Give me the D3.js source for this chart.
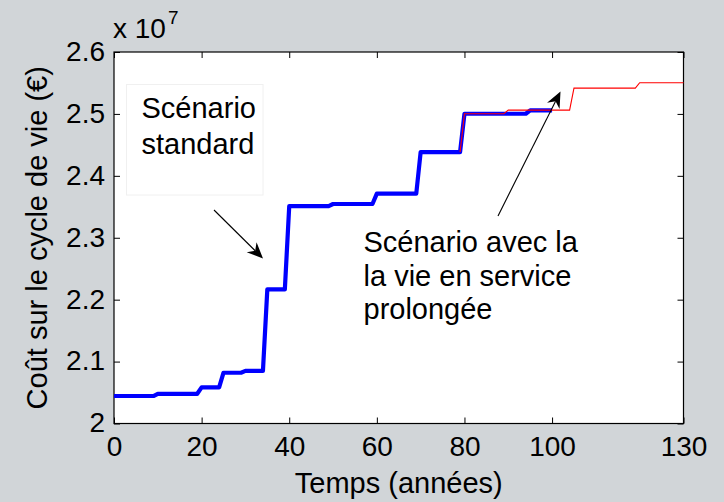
<!DOCTYPE html>
<html>
<head>
<meta charset="utf-8">
<script src="https://cdn.jsdelivr.net/npm/d3@7"></script>
<style>
  html, body { margin: 0; padding: 0; background: #d1d5d8; }
  svg { display: block; font-family: "Liberation Sans", Arial, Helvetica, sans-serif; }
</style>
</head>
<body>
<svg id="chart" width="724" height="502"></svg>
<script>
// Life-cycle cost (in units of 1e7 €) versus time (years)
const standardYears = [0, 9, 10, 19, 20, 24, 25, 29, 30, 34, 35, 39, 40, 49, 50, 59, 60, 69, 70, 79, 80, 94, 95, 100];
const standardCost  = [2.0444, 2.0444, 2.048, 2.048, 2.0584, 2.0584, 2.082, 2.082, 2.085, 2.085,
                       2.2165, 2.2165, 2.3512, 2.3512, 2.3545, 2.3545, 2.3713, 2.3713, 2.4384, 2.4384,
                       2.5003, 2.5003, 2.5058, 2.5058];

const extendedYears = [79, 80, 89, 90, 104, 105, 119, 120, 130];
const extendedCost  = [2.4384, 2.5003, 2.5003, 2.5062, 2.5062, 2.5416, 2.5416, 2.5503, 2.5503];

const xTicks = [0, 20, 40, 60, 80, 100, 130];
const yTicks = [2, 2.1, 2.2, 2.3, 2.4, 2.5, 2.6];
const yTickLabels = ["2", "2.1", "2.2", "2.3", "2.4", "2.5", "2.6"];

const xLabel = "Temps (années)";
const yLabel = "Coût sur le cycle de vie (€)";
const standardNote = ["Scénario", "standard"];
const extendedNote = ["Scénario avec la", "la vie en service", "prolongée"];

const svg = d3.select("#chart");
const plot = { left: 114, right: 683.5, top: 52, bottom: 423.5 };

const x = d3.scaleLinear().domain([0, 130]).range([plot.left, plot.right]);
const y = d3.scaleLinear().domain([2, 2.6]).range([plot.bottom, plot.top]);

// plot background
svg.append("rect")
  .attr("x", plot.left).attr("y", plot.top)
  .attr("width", plot.right - plot.left).attr("height", plot.bottom - plot.top)
  .attr("fill", "#ffffff");

const fontSize = 28;
const tickLen = 6;

// axes: ticks point inward, mirrored on the opposite side
const bottomAxis = d3.axisBottom(x).tickValues(xTicks).tickFormat(d3.format("d"))
  .tickSizeInner(-tickLen).tickSizeOuter(0).tickPadding(14);
const topAxis = d3.axisTop(x).tickValues(xTicks).tickFormat("")
  .tickSizeInner(-tickLen).tickSizeOuter(0);
const leftAxis = d3.axisLeft(y).tickValues(yTicks).tickFormat((d, i) => yTickLabels[i])
  .tickSizeInner(-tickLen).tickSizeOuter(0).tickPadding(14);
const rightAxis = d3.axisRight(y).tickValues(yTicks).tickFormat("")
  .tickSizeInner(-tickLen).tickSizeOuter(0);

function styleAxis(g) {
  g.select(".domain").remove();
  g.selectAll(".tick line").attr("stroke", "#000").attr("stroke-width", 1);
  g.selectAll(".tick text").attr("fill", "#000")
    .style("font-size", fontSize + "px")
    .style("font-family", "'Liberation Sans', Arial, sans-serif");
}

svg.append("g").attr("transform", `translate(0,${plot.bottom})`).call(bottomAxis).call(styleAxis)
  .selectAll(".tick text").attr("dy", "0.71em").attr("y", 13);
svg.append("g").attr("transform", `translate(0,${plot.top})`).call(topAxis).call(styleAxis);
svg.append("g").attr("transform", `translate(${plot.left},0)`).call(leftAxis).call(styleAxis)
  .selectAll(".tick text").attr("x", -9).attr("dy", "0.3em");
svg.append("g").attr("transform", `translate(${plot.right},0)`).call(rightAxis).call(styleAxis);

// frame
svg.append("rect")
  .attr("x", plot.left).attr("y", plot.top)
  .attr("width", plot.right - plot.left).attr("height", plot.bottom - plot.top)
  .attr("fill", "none").attr("stroke", "#000").attr("stroke-width", 1.2);

// series
const line = d3.line().x(d => x(d[0])).y(d => y(d[1]));
const standardData = standardYears.map((t, i) => [t, standardCost[i]]);
const extendedData = extendedYears.map((t, i) => [t, extendedCost[i]]);

svg.append("path").datum(standardData)
  .attr("d", line).attr("fill", "none")
  .attr("stroke", "#0000ff").attr("stroke-width", 4.2)
  .attr("stroke-linejoin", "round");

svg.append("path").datum(extendedData)
  .attr("d", line).attr("fill", "none")
  .attr("stroke", "#ff0000").attr("stroke-width", 1.1);

// exponent label
const expo = svg.append("text").attr("x", 113).attr("y", 38)
  .style("font-size", fontSize + "px").attr("fill", "#000");
expo.append("tspan").text("x 10");
expo.append("tspan").attr("dx", 2).attr("dy", -14).style("font-size", "19px").text("7");

// axis titles
svg.append("text")
  .attr("x", (plot.left + plot.right) / 2).attr("y", 493)
  .attr("text-anchor", "middle").style("font-size", "29px").attr("fill", "#000")
  .text(xLabel);

svg.append("text")
  .attr("transform", `translate(46.5,${(plot.top + plot.bottom) / 2}) rotate(-90)`)
  .attr("text-anchor", "middle").style("font-size", "29px").attr("fill", "#000")
  .text(yLabel);

// annotation: standard scenario in a light box
svg.append("rect")
  .attr("x", 126.5).attr("y", 84.5).attr("width", 136.5).attr("height", 110.5)
  .attr("fill", "#ffffff").attr("stroke", "#f0f0f0").attr("stroke-width", 1);
svg.append("text").attr("x", 141.5).attr("y", 118)
  .style("font-size", "29px").attr("fill", "#000")
  .selectAll("tspan").data(standardNote).join("tspan")
  .attr("x", 141.5).attr("dy", (d, i) => i === 0 ? 0 : 35.5).text(d => d);

svg.append("text").attr("x", 363.5).attr("y", 252)
  .style("font-size", "29px").attr("fill", "#000")
  .selectAll("tspan").data(extendedNote).join("tspan")
  .attr("x", 363.5).attr("dy", (d, i) => i === 0 ? 0 : 33.5).text(d => d);

// arrows with notched heads
function arrow(x1, y1, x2, y2) {
  const ang = Math.atan2(y2 - y1, x2 - x1);
  const len = 16, half = 7, notch = 11;
  const ux = Math.cos(ang), uy = Math.sin(ang);
  const px = -uy, py = ux;
  const bx = x2 - ux * len, by = y2 - uy * len;
  const nx = x2 - ux * notch, ny = y2 - uy * notch;
  svg.append("line")
    .attr("x1", x1).attr("y1", y1).attr("x2", nx).attr("y2", ny)
    .attr("stroke", "#000").attr("stroke-width", 1.1);
  svg.append("path")
    .attr("d", `M${x2},${y2}L${bx + px * half},${by + py * half}L${nx},${ny}L${bx - px * half},${by - py * half}Z`)
    .attr("fill", "#000");
}
arrow(214, 210, 263, 258.5);
arrow(498, 216, 560.5, 91.5);
</script>
</body>
</html>
